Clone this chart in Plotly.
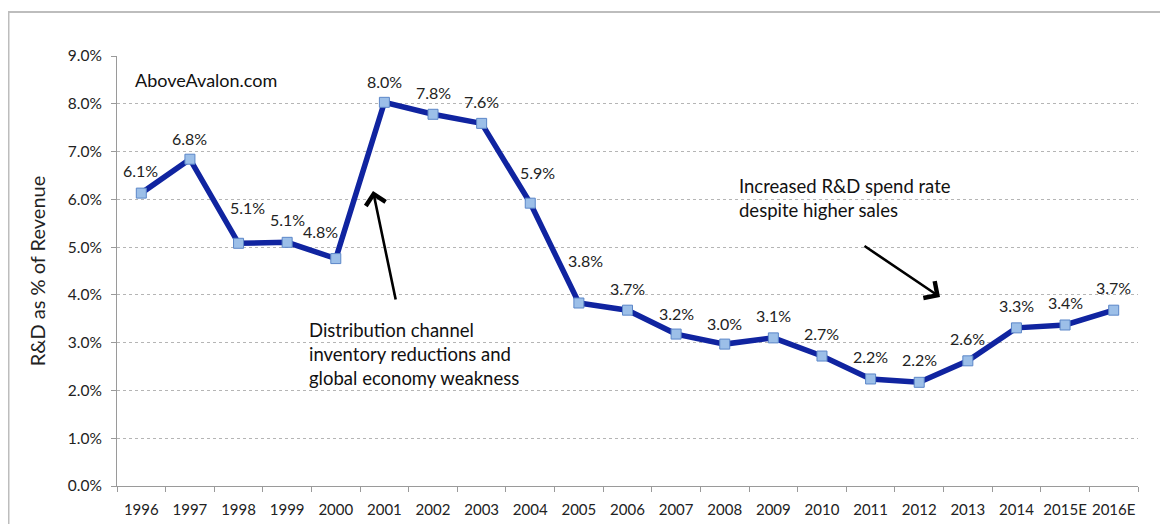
import plotly.graph_objects as go

years = ["1996", "1997", "1998", "1999", "2000", "2001", "2002", "2003", "2004", "2005",
         "2006", "2007", "2008", "2009", "2010", "2011", "2012", "2013", "2014", "2015E", "2016E"]
rd_pct = [6.13, 6.84, 5.08, 5.10, 4.76, 8.03, 7.78, 7.59, 5.92, 3.83,
          3.68, 3.18, 2.97, 3.10, 2.72, 2.24, 2.17, 2.62, 3.31, 3.37, 3.68]
y_ticks = [0, 1, 2, 3, 4, 5, 6, 7, 8, 9]
y_tick_labels = ["0.0%", "1.0%", "2.0%", "3.0%", "4.0%", "5.0%", "6.0%", "7.0%", "8.0%", "9.0%"]

# label placement offsets in pixels (style only)
label_dx = [-1, 0, 9, 0, -15, 0, 0, 0, 7, 7, 0, 0, 0, 0, 0, 0, 0, 0, 0, 0, 0]
label_dy = [23, 21, 36, 23, 27, 21, 22, 22, 31, 43, 22, 21, 21, 22, 23, 22, 23, 22, 22, 22, 23]

FONT = "Lato"
OFF = 8  # page body margin; screen pixel = figure pixel + OFF
W, H = 1160, 516
L, R, T, B = 109, 30, 48, 38

fig = go.Figure()
fig.add_trace(go.Scatter(
    x=years, y=rd_pct, mode="lines+markers",
    line=dict(color="#1024a0", width=5.5),
    marker=dict(symbol="square", size=10, color="#9cbfe8", line=dict(color="#5b86c8", width=1)),
    cliponaxis=False, showlegend=False, hoverinfo="x+y",
))

for i, (v, dx, dy) in enumerate(zip(rd_pct, label_dx, label_dy)):
    fig.add_annotation(x=i, y=v, xref="x", yref="y", text=f"{v:.1f}%",
                       showarrow=False, xshift=dx, yshift=dy,
                       xanchor="center", yanchor="middle",
                       font=dict(family=FONT, size=16, color="#222222"))

fig.update_layout(
    width=W, height=H,
    margin=dict(l=L, r=R, t=T, b=B),
    paper_bgcolor="white", plot_bgcolor="white",
    font=dict(family=FONT, color="#222222"),
    xaxis=dict(
        type="category", showline=True, linecolor="#9a9a9a", linewidth=1,
        ticks="outside", tickson="boundaries", ticklen=5, tickcolor="#9a9a9a",
        showgrid=False, tickfont=dict(size=15, family=FONT, color="#222222"),
        tickangle=0, automargin=False, ticklabelstandoff=10,
        range=[-0.5, len(years) - 0.5],
    ),
    yaxis=dict(
        range=[0, 9], tickvals=y_ticks, ticktext=y_tick_labels,
        showline=True, linecolor="#9a9a9a", linewidth=1,
        ticks="outside", ticklen=5, tickcolor="#9a9a9a",
        showgrid=True, gridcolor="#b5b5b5", griddash="dot", gridwidth=1,
        zeroline=False, tickfont=dict(size=15.5, family=FONT, color="#222222"),
        ticklabelstandoff=6, automargin=False,
        title=dict(text="R&D as % of Revenue", font=dict(size=20, family=FONT, color="#222222"), standoff=16),
    ),
)

def px_x(p):
    return (p - OFF - L) / (W - L - R)

def px_y(p):
    return (H - B - (p - OFF)) / (H - T - B)

# outer frame
fig.add_shape(type="rect", xref="paper", yref="paper",
              x0=px_x(8.5), x1=px_x(1180), y0=px_y(540), y1=px_y(12),
              line=dict(color="#bdbdbd", width=2), layer="below")

fig.add_annotation(x=px_x(133), y=px_y(80), xref="paper", yref="paper",
                   text="AboveAvalon.com", showarrow=False, xanchor="left", yanchor="middle",
                   font=dict(size=18, family=FONT, color="#111111"))

fig.add_annotation(x=px_x(307), y=px_y(354), xref="paper", yref="paper",
                   text="Distribution channel<br>inventory reductions and<br>global economy weakness",
                   showarrow=False, xanchor="left", yanchor="middle", align="left",
                   font=dict(size=18.5, family=FONT, color="#111111"))

fig.add_annotation(x=px_x(737), y=px_y(198), xref="paper", yref="paper",
                   text="Increased R&D spend rate<br>despite higher sales",
                   showarrow=False, xanchor="left", yanchor="middle", align="left",
                   font=dict(size=18.5, family=FONT, color="#111111"))

# arrows (tail offset in pixels from head)
fig.add_annotation(x=px_x(373), y=px_y(191), xref="paper", yref="paper",
                   ax=23, ay=110, axref="pixel", ayref="pixel",
                   text="", showarrow=True, arrowhead=4, arrowsize=1.5, arrowwidth=2.6, arrowcolor="#000000")
fig.add_annotation(x=px_x(940), y=px_y(297), xref="paper", yref="paper",
                   ax=-77, ay=-52, axref="pixel", ayref="pixel",
                   text="", showarrow=True, arrowhead=4, arrowsize=1.5, arrowwidth=2.6, arrowcolor="#000000")

fig.write_html("out.html")
